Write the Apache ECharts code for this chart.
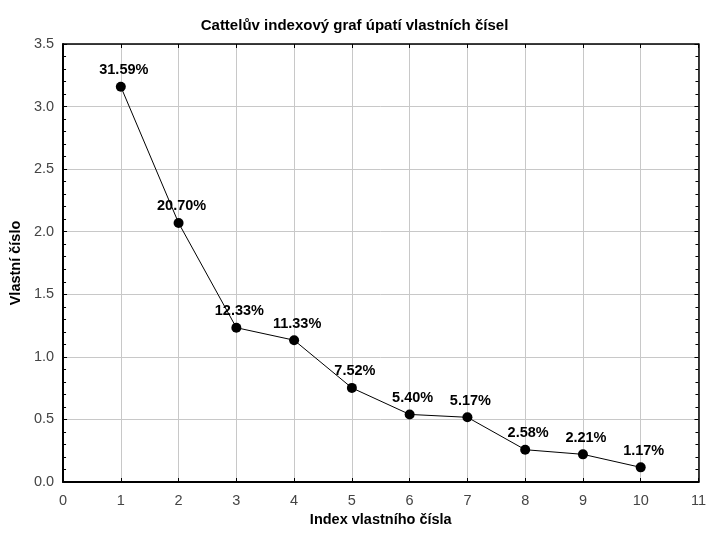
<!DOCTYPE html>
<html>
<head>
<meta charset="utf-8">
<script src="https://cdn.jsdelivr.net/npm/echarts@6/dist/echarts.min.js"></script>
<style>
  html, body { margin: 0; padding: 0; background: #fff; }
  #chart { width: 709px; height: 535px; }
</style>
</head>
<body>
<div id="chart"></div>
<script>
// Scree plot: eigenvalue by index, labelled with the share of explained variance
const indices = [1, 2, 3, 4, 5, 6, 7, 8, 9, 10];
const eigenvalues = [3.159, 2.070, 1.233, 1.133, 0.752, 0.540, 0.517, 0.258, 0.221, 0.117];
const percentLabels = ['31.59%', '20.70%', '12.33%', '11.33%', '7.52%', '5.40%', '5.17%', '2.58%', '2.21%', '1.17%'];

const chartTitle = 'Cattelův indexový graf úpatí vlastních čísel';
const xTitle = 'Index vlastního čísla';
const yTitle = 'Vlastní číslo';

const FONT = '"Liberation Sans", Arial, sans-serif';

const chart = echarts.init(document.getElementById('chart'), null, { renderer: 'canvas' });

const points = indices.map((x, i) => [x, eigenvalues[i]]);

chart.setOption({
  animation: false,
  backgroundColor: '#ffffff',
  title: {
    text: chartTitle,
    left: 'center',
    top: 13,
    textStyle: { fontFamily: FONT, fontSize: 15, fontWeight: 'bold', color: '#000' }
  },
  grid: { left: 63, top: 44, right: 2, bottom: 53, containLabel: false },
  xAxis: [
    {
      type: 'value', min: 0, max: 11, interval: 1,
      name: xTitle, nameLocation: 'middle', nameGap: 29,
      nameTextStyle: { fontFamily: FONT, fontSize: 14.5, fontWeight: 'bold', color: '#000' },
      axisLine: { show: true, onZero: false, lineStyle: { color: '#000', width: 2 } },
      axisTick: { show: true, inside: true, length: 4, lineStyle: { color: '#000' } },
      axisLabel: { fontFamily: FONT, fontSize: 14.5, color: '#444', margin: 11 },
      splitLine: { show: true, lineStyle: { color: '#c8c8c8', width: 1 } }
    },
    {
      type: 'value', position: 'top', min: 0, max: 11, interval: 1,
      axisLine: { show: true, onZero: false, lineStyle: { color: '#000', width: 1.5 } },
      axisTick: { show: true, inside: true, length: 4, lineStyle: { color: '#000' } },
      axisLabel: { show: false },
      splitLine: { show: false }
    }
  ],
  yAxis: [
    {
      type: 'value', min: 0, max: 3.5, interval: 0.5,
      name: yTitle, nameLocation: 'middle', nameGap: 36, nameRotate: 90,
      nameTextStyle: { fontFamily: FONT, fontSize: 14.5, fontWeight: 'bold', color: '#000' },
      axisLine: { show: true, onZero: false, lineStyle: { color: '#000', width: 2 } },
      axisTick: { show: true, inside: true, length: 4, lineStyle: { color: '#000' } },
      minorTick: { show: true, splitNumber: 5, length: 3, lineStyle: { color: '#000' } },
      axisLabel: { fontFamily: FONT, fontSize: 14.5, color: '#444', margin: 9,
                   formatter: v => v.toFixed(1) },
      splitLine: { show: true, lineStyle: { color: '#c8c8c8', width: 1 } }
    },
    {
      type: 'value', position: 'right', min: 0, max: 3.5, interval: 0.5,
      axisLine: { show: true, onZero: false, lineStyle: { color: '#000', width: 1.5 } },
      axisTick: { show: true, inside: true, length: 4, lineStyle: { color: '#000' } },
      minorTick: { show: true, splitNumber: 5, length: 3, lineStyle: { color: '#000' } },
      axisLabel: { show: false },
      splitLine: { show: false }
    }
  ],
  series: [
    {
      type: 'line',
      data: points,
      symbol: 'circle',
      symbolSize: 10,
      itemStyle: { color: '#000' },
      lineStyle: { color: '#000', width: 1 },
      label: {
        show: true,
        position: 'top',
        distance: 4,
        offset: [3, 0],
        fontFamily: FONT,
        fontSize: 14.5,
        fontWeight: 'bold',
        color: '#000',
        formatter: p => percentLabels[p.dataIndex]
      }
    }
  ]
});
</script>
</body>
</html>
